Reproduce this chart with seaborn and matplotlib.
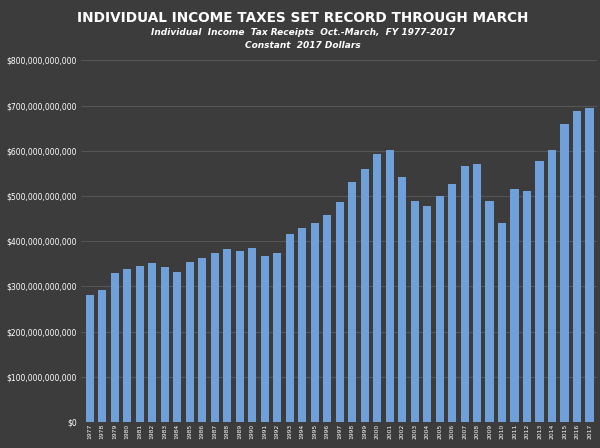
import matplotlib
matplotlib.use("Agg")
import matplotlib.pyplot as plt
import seaborn as sns
import pandas as pd

years = [str(y) for y in range(1977, 2018)]
receipts_billion = [280, 293, 330, 338, 345, 352, 343, 332, 355, 363, 375, 383, 378, 386, 368, 375,
                    415, 430, 440, 458, 487, 530, 560, 592, 603, 543, 490, 477, 500, 527, 567, 572,
                    490, 440, 515, 512, 578, 602, 660, 688, 695]

df = pd.DataFrame({"year": years, "value": receipts_billion})

sns.set_theme(style="dark")
fig = plt.figure(figsize=(6, 4.48), dpi=100)
fig.patch.set_facecolor("#3c3c3c")
ax = fig.add_axes([0.135, 0.058, 0.86, 0.807])
ax.set_facecolor("#3c3c3c")
sns.barplot(data=df, x="year", y="value", color="#6fa0da", saturation=1, width=0.65,
            linewidth=0, ax=ax, zorder=3)
ax.set_ylim(0, 800)
ax.set_yticks(range(0, 801, 100))
ax.set_yticklabels(["$0"] + [f"${v*1000000000:,.0f}" for v in range(100, 801, 100)],
                   color="white", fontsize=5.5)
ax.yaxis.grid(True, color="#555555", linewidth=0.8, zorder=0)
ax.set_xlabel("")
ax.set_ylabel("")
ax.tick_params(axis="x", labelrotation=90, labelsize=4.3, colors="white", pad=1, length=0)
ax.tick_params(axis="y", pad=3, length=0)
for s in ax.spines.values():
    s.set_visible(False)
ax.set_xlim(-0.7, len(years) - 0.4)

fig.text(0.505, 0.952, "INDIVIDUAL INCOME TAXES SET RECORD THROUGH MARCH", ha="center",
         color="white", fontsize=9.8, fontweight="bold")
fig.text(0.505, 0.922, "Individual  Income  Tax Receipts  Oct.-March,  FY 1977-2017", ha="center",
         color="white", fontsize=6.5, style="italic", fontweight="bold")
fig.text(0.505, 0.893, "Constant  2017 Dollars", ha="center",
         color="white", fontsize=6.5, style="italic", fontweight="bold")
fig.savefig("out.png", dpi=100, facecolor=fig.get_facecolor())
